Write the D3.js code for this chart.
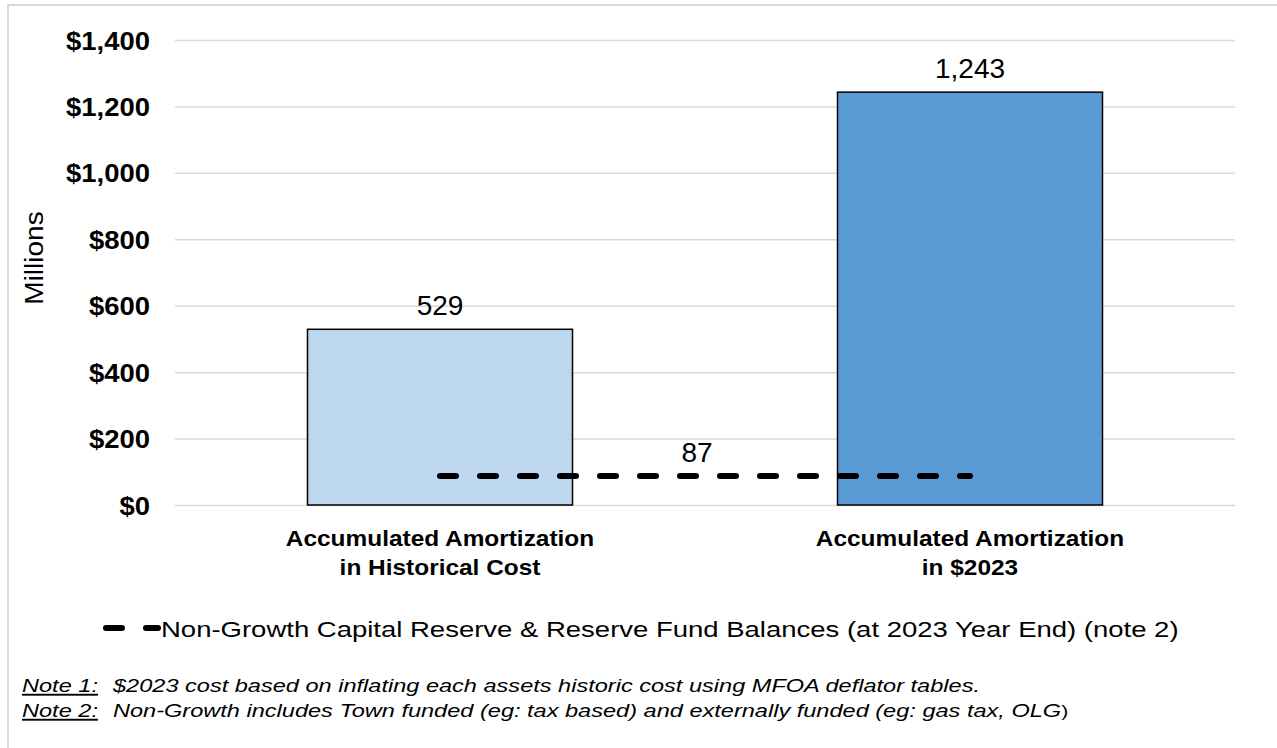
<!DOCTYPE html>
<meta charset="utf-8">
<script src="https://d3js.org/d3.v7.min.js"></script>
<style>
body { margin: 0; background: #fff; }
text { font-family: "Liberation Sans", Arial, sans-serif; fill: #000; }
</style>

<div id="chart"></div>

<script>

// data
var categories = ["Historical Cost", "$2023"];
var categoryLines = [["Accumulated Amortization", "in Historical Cost"],
                     ["Accumulated Amortization", "in $2023"]];
var amortization = [529, 1243];
var reserveBalance = 87;
var barColors = ["#BDD7EE", "#5B9BD5"];
var yTicks = [0, 200, 400, 600, 800, 1000, 1200, 1400];
var legendLabel = "Non-Growth Capital Reserve & Reserve Fund Balances (at 2023 Year End) (note 2)";
var noteLabels = ["Note 1:", "Note 2:"];
var noteTexts = ["$2023 cost based on inflating each assets historic cost using MFOA deflator tables.",
                 "Non-Growth includes Town funded (eg: tax based) and externally funded (eg: gas tax, OLG"];

var W = 1277, H = 748;
var plot = {left: 175, right: 1235, top: 40, bottom: 505};

var svg = d3.select("#chart")
  .append("svg")
    .attr("width", W)
    .attr("height", H);

// frame
svg.append("path")
  .attr("d", "M8," + H + "V5H" + W)
  .attr("fill", "none")
  .attr("stroke", "#d9d9d9")
  .attr("stroke-width", 2);

var x = d3.scaleBand()
  .domain(categories)
  .range([plot.left, plot.right])
  .paddingInner(0.5)
  .paddingOuter(0.25);

var y = d3.scaleLinear()
  .domain([0, 1400])
  .range([plot.bottom, plot.top]);

// stretched text helper
function label(g, px, py, txt, size, sx, anchor) {
  return g.append("text")
    .attr("transform", "translate(" + px + "," + py + ") scale(" + sx + ",1)")
    .attr("text-anchor", anchor || "start")
    .style("font-size", size + "px")
    .text(txt);
}

// y axis + gridlines
var yAxis = svg.append("g")
  .attr("transform", "translate(" + plot.left + ",0)")
  .call(d3.axisLeft(y)
    .tickValues(yTicks)
    .tickSize(-(plot.right - plot.left))
    .tickFormat(function (d) { return "$" + d3.format(",")(d); }));

yAxis.select(".domain").remove();
yAxis.selectAll(".tick line")
  .attr("stroke", "#d9d9d9")
  .attr("stroke-width", 1.5);
yAxis.selectAll(".tick text")
  .attr("x", null)
  .attr("dy", null)
  .attr("transform", "translate(-25,9) scale(1.055,1)")
  .attr("text-anchor", "end")
  .attr("fill", "#000")
  .style("font-family", "'Liberation Sans', Arial, sans-serif")
  .style("font-size", "26px")
  .style("font-weight", "bold");

// y title
svg.append("text")
  .attr("transform", "translate(43,258) rotate(-90) scale(1.12,1)")
  .attr("text-anchor", "middle")
  .style("font-size", "25px")
  .text("Millions");

// bars
svg.append("g")
  .selectAll("rect")
  .data(amortization)
  .enter()
  .append("rect")
    .attr("x", function (d, i) { return x(categories[i]); })
    .attr("y", function (d) { return y(d); })
    .attr("width", x.bandwidth())
    .attr("height", function (d) { return y(0) - y(d); })
    .attr("fill", function (d, i) { return barColors[i]; })
    .attr("stroke", "#000")
    .attr("stroke-width", 1.5);

// bar values
amortization.forEach(function (d, i) {
  label(svg, x(categories[i]) + x.bandwidth() / 2, y(d) - 14, d3.format(",")(d), 28, 1, "middle");
});

// reserve line
var x0 = x(categories[0]) + x.bandwidth() / 2,
    x1 = x(categories[1]) + x.bandwidth() / 2;
svg.append("line")
  .attr("x1", x0).attr("x2", x1)
  .attr("y1", y(reserveBalance)).attr("y2", y(reserveBalance))
  .attr("stroke", "#000")
  .attr("stroke-width", 6)
  .attr("stroke-linecap", "round")
  .attr("stroke-dasharray", "16,24");

label(svg, 697, y(reserveBalance) - 14, d3.format(",")(reserveBalance), 28, 1, "middle");

// category labels
categoryLines.forEach(function (lines, i) {
  var cx = x(categories[i]) + x.bandwidth() / 2;
  lines.forEach(function (ln, j) {
    label(svg, cx, 546 + j * 29, ln, 22, 1.11, "middle")
      .style("font-weight", "bold");
  });
});

// legend
svg.append("line")
  .attr("x1", 106).attr("x2", 158)
  .attr("y1", 628).attr("y2", 628)
  .attr("stroke", "#000")
  .attr("stroke-width", 6)
  .attr("stroke-linecap", "round")
  .attr("stroke-dasharray", "16,24");
label(svg, 161, 637, legendLabel, 22, 1.25);

// notes
noteLabels.forEach(function (n, i) {
  label(svg, 22, 692 + i * 25, n, 19, 1.24)
    .style("font-style", "italic")
    .style("text-decoration", "underline");
  var t = label(svg, 113, 692 + i * 25, noteTexts[i], 19, 1.24)
    .style("font-style", "italic");
  if (i == 1) {
    t.append("tspan").style("font-style", "normal").style("font-size", "17px").text(")");
  }
});

</script>
